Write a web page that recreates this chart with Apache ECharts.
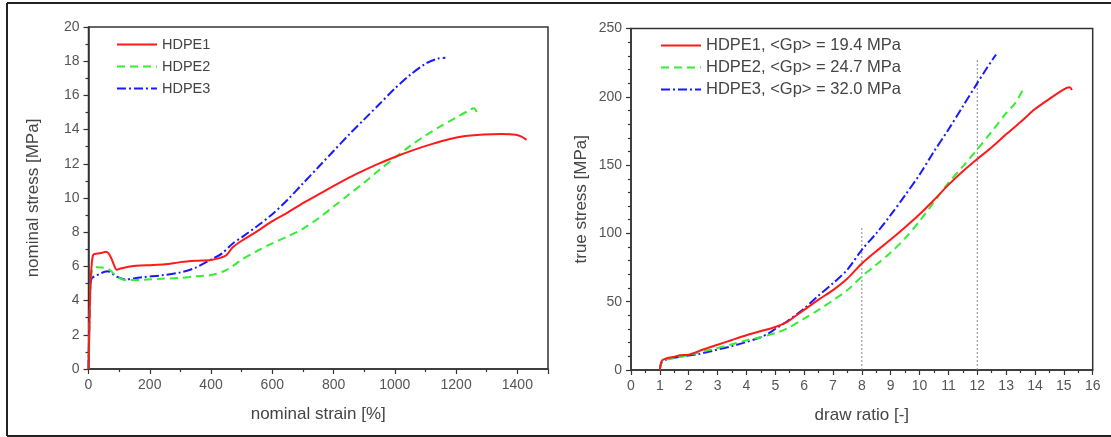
<!DOCTYPE html>
<html><head><meta charset="utf-8">
<script src="https://cdn.jsdelivr.net/npm/echarts@6/dist/echarts.min.js"></script>
<style>html,body{margin:0;padding:0;background:#fff}#c{width:1111px;height:437px}</style>
</head><body><div id="c"></div>
<script>
// ---- Left panel: nominal stress vs nominal strain ----
const leftNames = ['HDPE1', 'HDPE2', 'HDPE3'];
const leftHDPE1 = [[0,0],[3,2.5],[6,4.8],[10,6.0],[16,6.7],[30,6.75],[45,6.8],[55,6.85],[65,6.78],[75,6.45],[85,6.0],[92,5.8],[100,5.85],[130,5.98],[170,6.05],[200,6.07],[250,6.12],[300,6.25],[350,6.33],[400,6.38],[430,6.5],[450,6.65],[470,7.1],[500,7.5],[550,8.05],[600,8.65],[650,9.15],[700,9.7],[760,10.3],[820,10.9],[880,11.45],[940,11.95],[1000,12.4],[1060,12.8],[1120,13.15],[1180,13.45],[1230,13.62],[1290,13.72],[1350,13.75],[1395,13.7],[1415,13.58],[1430,13.4]];
const leftHDPE2 = [[0,0],[3,2.5],[6,4.5],[10,5.6],[15,5.9],[30,5.95],[50,5.92],[65,5.85],[75,5.7],[90,5.45],[110,5.25],[130,5.2],[180,5.22],[240,5.28],[300,5.33],[350,5.42],[400,5.5],[440,5.7],[470,6.0],[500,6.4],[550,6.9],[600,7.35],[650,7.75],[700,8.2],[750,8.8],[800,9.5],[850,10.2],[900,10.9],[950,11.65],[1000,12.35],[1050,13.05],[1100,13.65],[1150,14.2],[1200,14.7],[1240,15.1],[1258,15.25],[1268,15.0]];
const leftHDPE3 = [[0,0],[3,3],[6,4.8],[10,5.3],[20,5.42],[35,5.55],[50,5.67],[62,5.72],[75,5.6],[90,5.42],[120,5.23],[150,5.3],[180,5.38],[240,5.48],[300,5.65],[350,5.93],[400,6.4],[435,6.75],[470,7.33],[500,7.7],[550,8.35],[600,9.05],[650,9.9],[700,10.85],[750,11.8],[800,12.75],[850,13.7],[900,14.6],[950,15.5],[1000,16.4],[1050,17.2],[1100,17.85],[1140,18.15],[1165,18.2]];

// ---- Right panel: true stress vs draw ratio ----
const rightNames = ['HDPE1, <Gp> = 19.4 MPa', 'HDPE2, <Gp> = 24.7 MPa', 'HDPE3, <Gp> = 32.0 MPa'];
const rightHDPE1 = [[1.0,0],[1.03,4],[1.08,7],[1.2,8.3],[1.45,9.5],[1.7,10.8],[2.0,11.2],[2.5,15],[3,18.5],[3.5,22],[4,25.4],[4.5,28.5],[5,31.5],[5.4,35],[5.7,39.5],[6,44],[6.5,51.5],[7,58.5],[7.5,67],[8,78],[8.5,87],[9,95.5],[9.5,104.5],[10,114],[10.5,124.5],[11,135.5],[11.5,145.5],[12,154.5],[12.5,163],[13,172.5],[13.5,181.5],[14,191],[14.5,198.5],[15,205.5],[15.2,207],[15.28,205]];
const rightHDPE2 = [[1.0,0],[1.05,4.5],[1.12,7],[1.4,8.2],[1.7,9.5],[2.3,12.5],[2.9,15.6],[3.5,18.8],[4,21.7],[4.5,24],[5,27],[5.4,30.3],[6,37.6],[6.5,44],[7,51],[7.5,58.5],[8,68.5],[8.5,77],[9,86],[9.5,96.5],[10,109],[10.5,123],[11,137],[11.5,149],[12,161.5],[12.5,174.5],[13,188],[13.3,195],[13.63,207]];
const rightHDPE3 = [[1.0,0],[1.03,4],[1.08,6],[1.3,8.3],[1.8,10],[2.3,11.5],[2.9,14.4],[3.5,17.5],[4,20.5],[4.5,24],[4.75,26.6],[5,30],[5.4,35.5],[6,45],[6.5,54.5],[7,63.5],[7.5,73.5],[8,88],[8.5,100],[9,113.5],[9.5,128],[10,143],[10.5,160],[11,176],[11.5,193],[12,210],[12.3,220],[12.65,231]];
// vertical reference lines (draw ratio, top value)
const refLineX = [8, 12];
const refLineTop = [105, 228];

const colors = ['#ff1a1a', '#33ee33', '#1a1aff'];
const dashes = ['solid', [8, 5], [9, 3, 2, 3]];
const FONT = 'Liberation Sans, Arial, sans-serif';

function axisCommon(min, max, interval, split) {
  return {
    type: 'value', min: min, max: max, interval: interval,
    axisLine: { show: true, lineStyle: { color: '#333', width: 1.5 } },
    axisTick: { show: true, inside: false, length: 5, lineStyle: { color: '#333', width: 1.2 } },
    minorTick: { show: true, splitNumber: split, length: 3, lineStyle: { color: '#333', width: 1.2 } },
    splitLine: { show: false },
    axisLabel: { color: '#555', fontSize: 14, fontFamily: FONT, margin: 9 },
    nameTextStyle: { color: '#444', fontSize: 17, fontFamily: FONT },
    nameLocation: 'middle'
  };
}

const series = [];
[leftHDPE1, leftHDPE2, leftHDPE3].forEach((d, i) => {
  series.push({ name: leftNames[i], type: 'line', xAxisIndex: 0, yAxisIndex: 0, data: d,
    symbol: 'none', smooth: 0.3, lineStyle: { color: colors[i], width: 2, type: dashes[i] },
    itemStyle: { color: colors[i] }, z: 3 - i + 2 });
});
[rightHDPE1, rightHDPE2, rightHDPE3].forEach((d, i) => {
  series.push({ name: rightNames[i], type: 'line', xAxisIndex: 1, yAxisIndex: 1, data: d,
    symbol: 'none', smooth: 0.3, lineStyle: { color: colors[i], width: 2, type: dashes[i] },
    itemStyle: { color: colors[i] }, z: 3 - i + 2 });
});
refLineX.forEach((x, i) => {
  series.push({ name: 'ref' + i, type: 'line', xAxisIndex: 1, yAxisIndex: 1,
    data: [[x, 0], [x, refLineTop[i]]], symbol: 'none', silent: true,
    lineStyle: { color: '#888', width: 1, type: [2, 2] }, z: 1 });
});

const chart = echarts.init(document.getElementById('c'), null, { renderer: 'canvas' });
chart.setOption({
  animation: false,
  backgroundColor: '#fff',
  grid: [
    { left: 88.5, top: 27, width: 459.5, height: 342, show: true, borderColor: '#333', borderWidth: 1.5, backgroundColor: 'transparent' },
    { left: 631, top: 28.5, width: 461.7, height: 341.5, show: true, borderColor: '#333', borderWidth: 1.5, backgroundColor: 'transparent' }
  ],
  xAxis: [
    Object.assign(axisCommon(0, 1500, 200, 2), { gridIndex: 0, name: 'nominal strain [%]', nameGap: 37,
      axisLabel: { color: '#555', fontSize: 14, fontFamily: FONT, margin: 9, formatter: v => v > 1400 ? '' : v } }),
    Object.assign(axisCommon(0, 16, 1, 2), { gridIndex: 1, name: 'draw ratio [-]', nameGap: 37 })
  ],
  yAxis: [
    Object.assign(axisCommon(0, 20, 2, 2), { gridIndex: 0, name: 'nominal stress [MPa]', nameGap: 47 }),
    Object.assign(axisCommon(0, 250, 50, 5), { gridIndex: 1, name: 'true stress [MPa]', nameGap: 41 })
  ],
  legend: [
    { data: leftNames, orient: 'vertical', left: 111, top: 32, itemWidth: 40, itemHeight: 14, itemGap: 7,
      textStyle: { color: '#444', fontSize: 14.5, fontFamily: FONT }, itemStyle: { opacity: 0 } },
    { data: rightNames, orient: 'vertical', left: 655, top: 32, itemWidth: 40, itemHeight: 16, itemGap: 5,
      textStyle: { color: '#444', fontSize: 16.5, fontFamily: FONT }, itemStyle: { opacity: 0 } }
  ],
  graphic: [
    { type: 'line', shape: { x1: 7, y1: 3, x2: 1111, y2: 3 }, style: { stroke: '#222', lineWidth: 2 } },
    { type: 'line', shape: { x1: 7, y1: 3, x2: 7, y2: 436 }, style: { stroke: '#222', lineWidth: 2 } },
    { type: 'line', shape: { x1: 7, y1: 436, x2: 1111, y2: 436 }, style: { stroke: '#222', lineWidth: 2 } }
  ],
  series: series
});
</script></body></html>
